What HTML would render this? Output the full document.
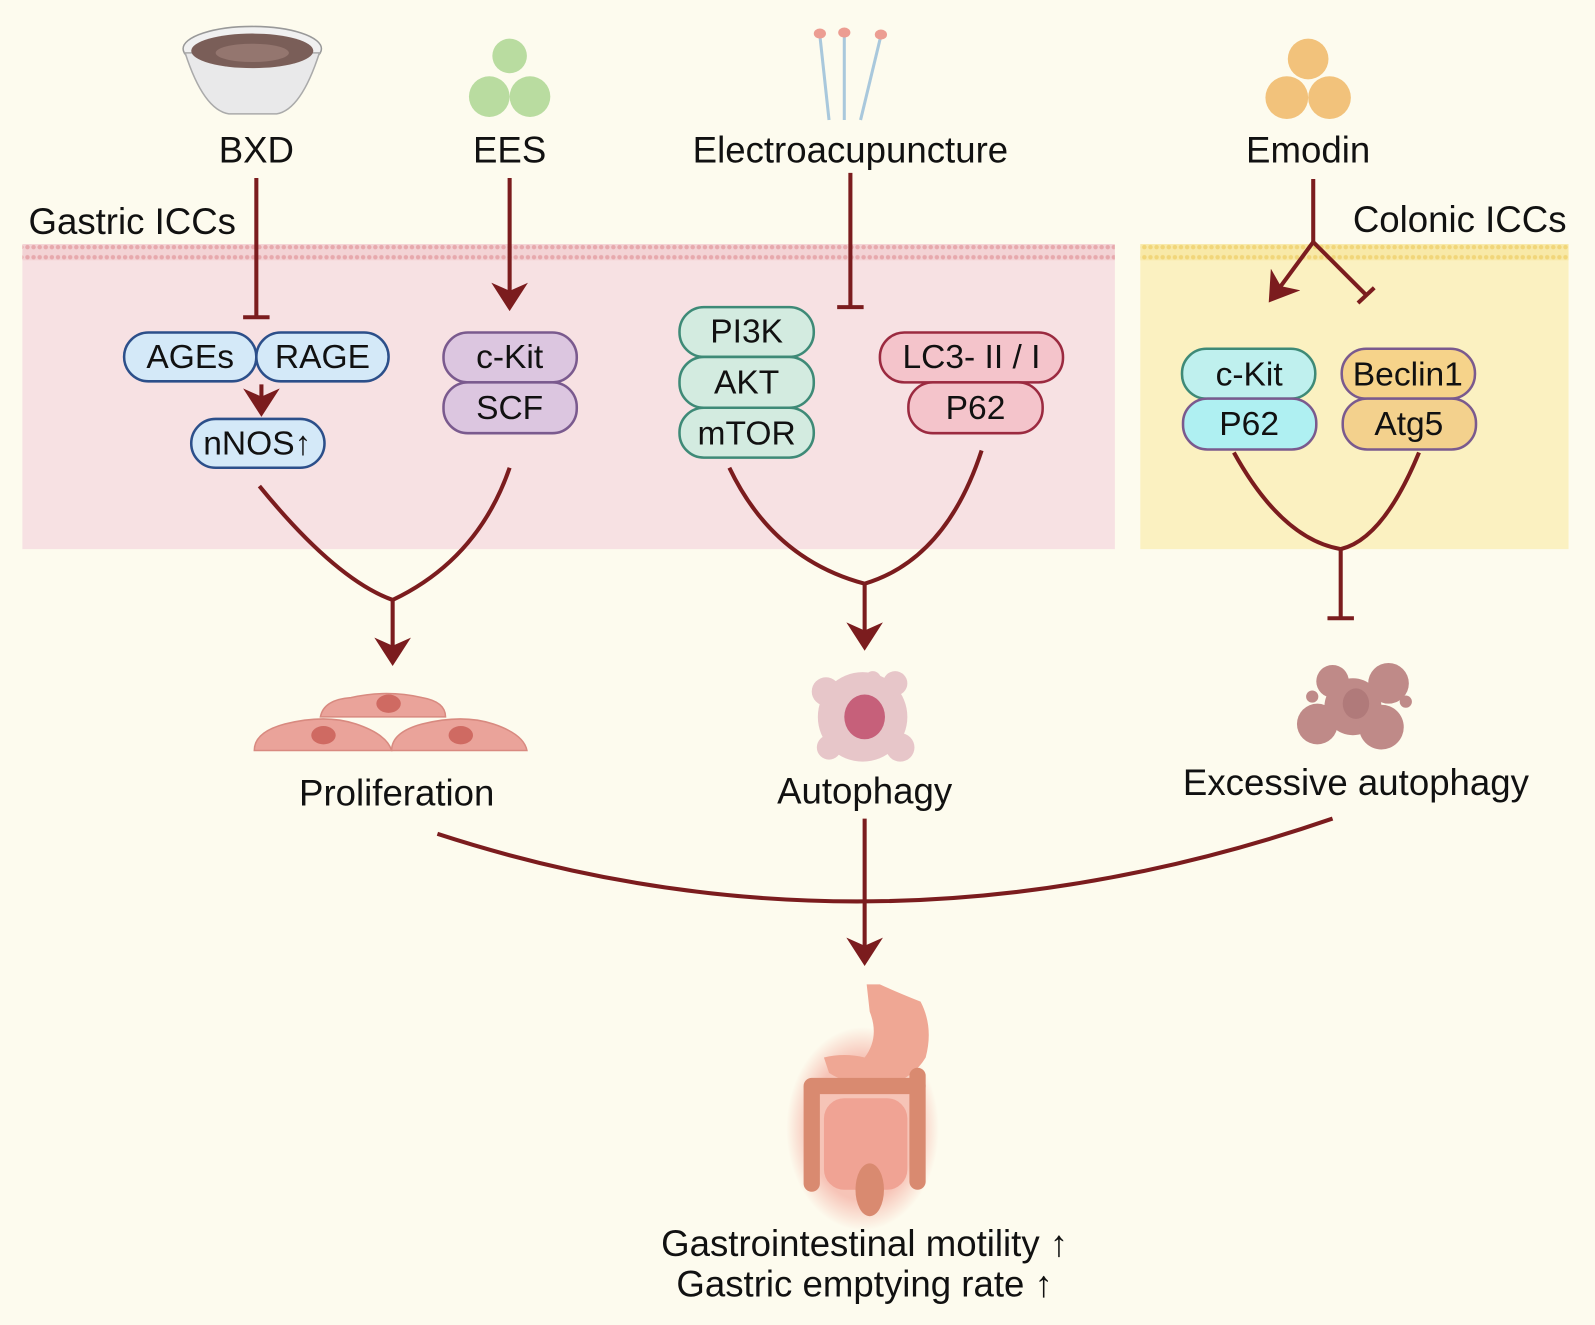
<!DOCTYPE html>
<html><head><meta charset="utf-8"><style>
html,body{margin:0;padding:0;background:#fdfbee;}
svg{display:block;}
text{font-family:"Liberation Sans",Arial,sans-serif;fill:#111;}
</style></head><body>
<svg width="1595" height="1325" viewBox="0 0 1568 1303" preserveAspectRatio="none" xmlns="http://www.w3.org/2000/svg">
<defs>
<pattern id="pm" width="6" height="16" patternUnits="userSpaceOnUse"><rect width="6" height="16" fill="#f3d3d5"/><circle cx="3" cy="3" r="2.2" fill="#e7a9ad"/><circle cx="3" cy="13" r="2.2" fill="#e7a9ad"/></pattern>
<pattern id="ym" width="6" height="16" patternUnits="userSpaceOnUse"><rect width="6" height="16" fill="#f8e9a8"/><circle cx="3" cy="3" r="2.2" fill="#f1d67a"/><circle cx="3" cy="13" r="2.2" fill="#f1d67a"/></pattern>
<marker id="ar" markerWidth="9" markerHeight="9" refX="5" refY="4.5" orient="auto" markerUnits="strokeWidth"><path d="M0,0 L7,4.5 L0,9 L2,4.5 Z" fill="#7b1c1e"/></marker>
<radialGradient id="gl" cx="0.5" cy="0.5" r="0.5"><stop offset="0.7" stop-color="#f08c80" stop-opacity="0.5"/><stop offset="1" stop-color="#f08c80" stop-opacity="0"/></radialGradient>
</defs>
<rect width="1568" height="1303" fill="#fdfbee"/>
<rect x="22" y="248" width="1074" height="292" fill="#f7e1e3"/>
<rect x="22" y="240" width="1074" height="16" fill="url(#pm)"/>
<rect x="1121" y="248" width="421" height="292" fill="#fbf1c1"/>
<rect x="1121" y="240" width="421" height="16" fill="url(#ym)"/>
<text x="28" y="230" font-size="36">Gastric ICCs</text>
<text x="1540" y="228" font-size="36" text-anchor="end">Colonic ICCs</text>
<ellipse cx="248" cy="48" rx="68" ry="22" fill="#f0f0f0" stroke="#999" stroke-width="1.5"/>
<path d="M182,52 Q200,108 225,112 L272,112 Q296,108 314,52 Z" fill="#e9e9ea" stroke="#aaa" stroke-width="1.5"/>
<ellipse cx="248" cy="50" rx="60" ry="17" fill="#7a5e58"/>
<ellipse cx="248" cy="52" rx="36" ry="9" fill="#94766f"/>
<g fill="#b9dca0"><circle cx="501" cy="55" r="17"/><circle cx="481" cy="95" r="20"/><circle cx="521" cy="95" r="20"/></g>
<g fill="#f2c27b"><circle cx="1286" cy="58" r="20"/><circle cx="1265" cy="96" r="21"/><circle cx="1307" cy="96" r="21"/></g>
<g stroke="#a9c8dc" stroke-width="3"><line x1="806" y1="35" x2="815" y2="118"/><line x1="830" y1="35" x2="830" y2="118"/><line x1="866" y1="35" x2="846" y2="118"/></g>
<g fill="#ec9d92"><ellipse cx="806" cy="33" rx="6" ry="5"/><ellipse cx="830" cy="32" rx="6" ry="5"/><ellipse cx="866" cy="34" rx="6" ry="5"/></g>
<g font-size="36" text-anchor="middle">
<text x="252" y="160">BXD</text><text x="501" y="160">EES</text><text x="836" y="160">Electroacupuncture</text><text x="1286" y="160">Emodin</text>
</g>
<g stroke="#7b1c1e" stroke-width="4" fill="none">
<line x1="252" y1="175" x2="252" y2="312"/><line x1="239" y1="312" x2="265" y2="312"/>
<line x1="501" y1="175" x2="501" y2="298" marker-end="url(#ar)"/>
<line x1="836" y1="170" x2="836" y2="302"/><line x1="823" y1="302" x2="849" y2="302"/>
<polyline points="1291,176 1291,238"/>
<line x1="1291" y1="238" x2="1252" y2="291" marker-end="url(#ar)"/>
<line x1="1291" y1="238" x2="1343" y2="290"/><line x1="1335" y1="298" x2="1351" y2="283"/>
<line x1="257" y1="378" x2="257" y2="402" marker-end="url(#ar)"/>
<path d="M255,478 Q330,570 386,590"/><path d="M501,460 Q470,550 386,590"/>
<line x1="386" y1="590" x2="386" y2="647" marker-end="url(#ar)"/>
<path d="M717,460 Q760,550 850,574"/><path d="M965,443 Q930,550 850,574"/>
<line x1="850" y1="574" x2="850" y2="632" marker-end="url(#ar)"/>
<path d="M1213,445 Q1260,530 1318,540"/><path d="M1395,445 Q1360,530 1318,540"/>
<line x1="1318" y1="540" x2="1318" y2="608"/><line x1="1305" y1="608" x2="1331" y2="608"/>
<path d="M430,820 Q860,960 1310,805"/>
<line x1="850" y1="805" x2="850" y2="942" marker-end="url(#ar)"/>
</g>
<g stroke-width="2.5" font-size="33" text-anchor="middle">
<rect x="122" y="327" width="130" height="48" rx="24" fill="#d4e9f8" stroke="#2c4f8a"/><text x="187" y="362">AGEs</text>
<rect x="252" y="327" width="130" height="48" rx="24" fill="#d4e9f8" stroke="#2c4f8a"/><text x="317" y="362">RAGE</text>
<rect x="188" y="412" width="131" height="48" rx="24" fill="#d4e9f8" stroke="#2c4f8a"/><text x="253" y="447">nNOS↑</text>
<rect x="436" y="327" width="131" height="49" rx="24" fill="#dcc6e0" stroke="#7a5a8e"/><text x="501" y="362">c-Kit</text>
<rect x="436" y="376" width="131" height="50" rx="24" fill="#dcc6e0" stroke="#7a5a8e"/><text x="501" y="412">SCF</text>
<rect x="668" y="302" width="132" height="49" rx="24" fill="#d3ebe0" stroke="#3e8a77"/><text x="734" y="337">PI3K</text>
<rect x="668" y="351" width="132" height="50" rx="24" fill="#d3ebe0" stroke="#3e8a77"/><text x="734" y="387">AKT</text>
<rect x="668" y="401" width="132" height="49" rx="24" fill="#d3ebe0" stroke="#3e8a77"/><text x="734" y="437">mTOR</text>
<rect x="865" y="327" width="180" height="49" rx="24" fill="#f4c4cb" stroke="#9b2a40"/><text x="955" y="362">LC3- II / I</text>
<rect x="893" y="376" width="132" height="50" rx="24" fill="#f4c4cb" stroke="#9b2a40"/><text x="959" y="412">P62</text>
<rect x="1162" y="343" width="131" height="49" rx="24" fill="#bff0ee" stroke="#3e8a77"/><text x="1228" y="379">c-Kit</text>
<rect x="1163" y="392" width="131" height="50" rx="24" fill="#aff0f2" stroke="#7a5a8e"/><text x="1228" y="428">P62</text>
<rect x="1319" y="343" width="131" height="49" rx="24" fill="#f6d38a" stroke="#7a5a8e"/><text x="1384" y="379">Beclin1</text>
<rect x="1320" y="392" width="131" height="50" rx="24" fill="#f3d18d" stroke="#7a5a8e"/><text x="1385" y="428">Atg5</text>
</g>
<g fill="#eaa39a" stroke="#d88a80" stroke-width="1.5">
<path d="M315,705 Q318,688 345,686 Q380,678 415,686 Q438,690 438,705 Z"/>
<path d="M250,738 Q250,720 280,712 Q320,702 350,712 Q380,722 385,738 Z"/>
<path d="M385,738 Q385,720 415,712 Q455,702 485,712 Q515,722 518,738 Z"/>
</g>
<g fill="#cf6a62"><ellipse cx="382" cy="692" rx="12" ry="9"/><ellipse cx="318" cy="723" rx="12" ry="9"/><ellipse cx="453" cy="723" rx="12" ry="9"/></g>
<g fill="#e7c6c9"><circle cx="848" cy="705" r="44"/><circle cx="812" cy="680" r="14"/><circle cx="880" cy="672" r="12"/><circle cx="815" cy="735" r="12"/><circle cx="885" cy="735" r="14"/><circle cx="858" cy="668" r="8"/></g>
<ellipse cx="850" cy="705" rx="20" ry="22" fill="#c6607a"/>
<g fill="#bf8a88"><circle cx="1330" cy="695" r="28"/><circle cx="1310" cy="670" r="16"/><circle cx="1365" cy="672" r="20"/><circle cx="1295" cy="712" r="20"/><circle cx="1358" cy="715" r="22"/><circle cx="1382" cy="690" r="6"/><circle cx="1290" cy="685" r="6"/></g>
<ellipse cx="1333" cy="692" rx="13" ry="15" fill="#b07a7a"/>
<g font-size="36" text-anchor="middle">
<text x="390" y="792">Proliferation</text><text x="850" y="790">Autophagy</text><text x="1333" y="782">Excessive autophagy</text>
</g>
<ellipse cx="848" cy="1110" rx="75" ry="100" fill="url(#gl)"/>
<path d="M852,968 L865,968 Q880,975 905,985 Q918,1010 910,1040 Q895,1065 860,1070 Q830,1065 815,1055 L810,1040 Q830,1035 850,1040 Q865,1020 855,995 Z" fill="#efa794"/>
<rect x="790" y="1060" width="120" height="16" rx="8" fill="#d98a70"/>
<rect x="790" y="1062" width="16" height="110" rx="8" fill="#d98a70"/>
<rect x="894" y="1050" width="16" height="120" rx="8" fill="#d98a70"/>
<rect x="810" y="1080" width="82" height="90" rx="20" fill="#f0a394"/>
<ellipse cx="855" cy="1170" rx="14" ry="26" fill="#d98a70"/>
<g font-size="36" text-anchor="middle">
<text x="850" y="1235">Gastrointestinal motility ↑</text><text x="850" y="1275">Gastric emptying rate ↑</text>
</g>
</svg>
</body></html>
